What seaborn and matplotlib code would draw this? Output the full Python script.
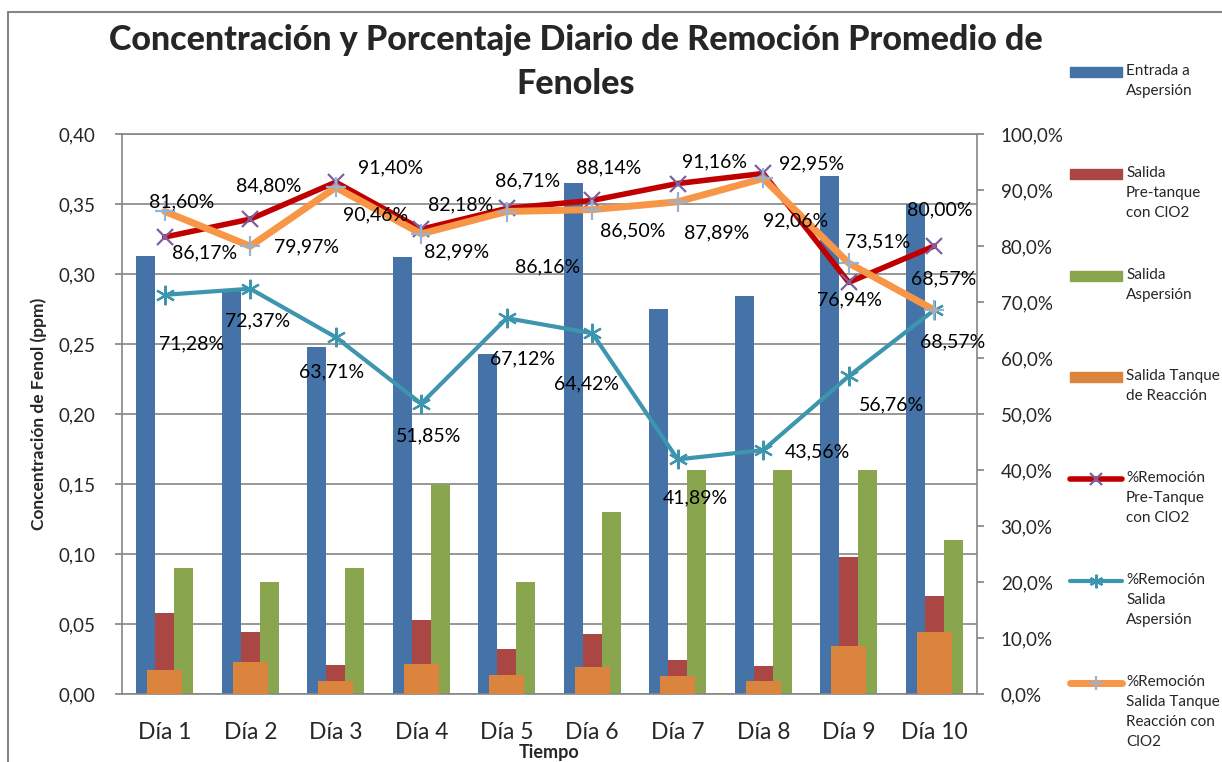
import matplotlib
matplotlib.use("Agg")
from matplotlib import pyplot as plt
from matplotlib.lines import Line2D
from matplotlib.patches import Rectangle
from matplotlib.ticker import FuncFormatter, MultipleLocator
import seaborn as sns
import pandas as pd
import numpy as np

dias = ['Día 1', 'Día 2', 'Día 3', 'Día 4', 'Día 5',
        'Día 6', 'Día 7', 'Día 8', 'Día 9', 'Día 10']

# concentraciones (ppm)
entrada_asp = [0.313, 0.289, 0.248, 0.312, 0.243, 0.365, 0.275, 0.284, 0.370, 0.350]
salida_pre = [0.058, 0.044, 0.021, 0.053, 0.032, 0.043, 0.024, 0.020, 0.098, 0.070]
salida_asp = [0.09, 0.08, 0.09, 0.15, 0.08, 0.13, 0.16, 0.16, 0.16, 0.11]
salida_tanque = [0.043, 0.058, 0.024, 0.054, 0.034, 0.049, 0.033, 0.023, 0.085, 0.110]

# porcentajes de remocion (%)
rem_pre = [81.60, 84.80, 91.40, 82.99, 86.71, 88.14, 91.16, 92.95, 73.51, 80.00]
rem_asp = [71.28, 72.37, 63.71, 51.85, 67.12, 64.42, 41.89, 43.56, 56.76, 68.57]
rem_tanque = [86.17, 79.97, 90.46, 82.18, 86.16, 86.50, 87.89, 92.06, 76.94, 68.57]

# where the data labels sit, in pixels from the point (x right, y down)
off_pre = [(17, -35), (18, -33), (55, -14), (35, 23), (21, -28),
           (16, -33), (37, -22), (48, -10), (29, -40), (5, -36)]
off_asp = [(27, 49), (7, 32), (-4, 35), (7, 32), (16, 41),
           (-6, 51), (18, 38), (54, 2), (43, 29), (18, 32)]
off_tanque = [(40, 41), (56, 1), (40, 27), (39, -29), (41, 55),
              (40, 21), (39, 31), (32, 42), (1, 37), (9, -31)]

C_BLUE, C_RED, C_GREEN, C_ORANGE = '#4572A7', '#AA4643', '#89A54E', '#DB843D'
C_LRED, C_TEAL, C_LORANGE = '#C00000', '#3D96AE', '#F79646'
GRAY = '#868686'

sns.set_theme(style='white')
plt.rcParams['font.family'] = ['Lato', 'DejaVu Sans']

fig = plt.figure(figsize=(12.22, 7.62), dpi=100)
W, H = 1222, 762
ax = fig.add_axes([122 / W, 1 - 694 / H, 855 / W, 560 / H])

bars = pd.DataFrame({
    'Dia': dias * 3,
    'ppm': entrada_asp + salida_pre + salida_asp,
    'Serie': ['Entrada a Aspersión'] * 10 + ['Salida Pre-tanque con ClO2'] * 10
             + ['Salida Aspersión'] * 10,
})
sns.barplot(data=bars, x='Dia', y='ppm', hue='Serie', ax=ax,
            palette=[C_BLUE, C_RED, C_GREEN], width=0.667, gap=0,
            saturation=1, legend=False, linewidth=0)

ax.set_ylim(0, 0.40)
ax.set_xlim(-0.5, 9.5)
ax.yaxis.set_major_locator(MultipleLocator(0.05))
ax.yaxis.set_major_formatter(FuncFormatter(lambda v, p: f'{v:.2f}'.replace('.', ',')))
ax.grid(axis='y', color=GRAY, linewidth=1.2)
ax.set_axisbelow(True)
for s in ['left', 'bottom', 'top']:
    ax.spines[s].set_color(GRAY)
    ax.spines[s].set_linewidth(1.2)
ax.spines['right'].set_visible(False)
ax.tick_params(axis='y', left=True, length=5, color=GRAY, labelsize=13.5, pad=14)
ax.tick_params(axis='x', bottom=False, labelsize=16.5, pad=14)
ax.set_xlabel('Tiempo', fontsize=13, fontweight='bold', labelpad=1)
ax.set_ylabel('Concentración de Fenol (ppm)', fontsize=12.5, fontweight='bold', labelpad=8)

# eje secundario: porcentajes y la barra del tanque de reaccion
ax2 = ax.twinx()
sns.barplot(x=dias, y=salida_tanque, ax=ax2, color=C_ORANGE, width=0.41,
            saturation=1, linewidth=0)
ax2.set_ylim(0, 1.0)
ax2.yaxis.set_major_locator(MultipleLocator(0.1))
ax2.yaxis.set_major_formatter(FuncFormatter(lambda v, p: f'{v * 100:.1f}%'.replace('.', ',')))
for s in ['left', 'bottom', 'top']:
    ax2.spines[s].set_visible(False)
ax2.spines['right'].set_color(GRAY)
ax2.spines['right'].set_linewidth(1.2)
ax2.tick_params(axis='y', right=True, length=5, color=GRAY, labelsize=13.5, pad=12)
ax2.grid(False)

x = np.arange(len(dias))
series = [
    (rem_pre, C_LRED, 4, 'x', '#7D60A0', 12, off_pre),
    (rem_asp, C_TEAL, 3, (6, 2, 0), C_TEAL, 14, off_asp),
    (rem_tanque, C_LORANGE, 5, '+', '#95B3D7', 14, off_tanque),
]
for vals, col, lw, mk, mcol, ms, offs in series:
    y = np.array(vals) / 100
    sns.lineplot(x=x, y=y, ax=ax2, color=col, linewidth=lw, marker=mk, markersize=ms,
                 markeredgecolor=mcol, markerfacecolor=mcol, markeredgewidth=1.6)
    for i, v in enumerate(vals):
        dx, dy = offs[i]
        ax2.annotate(f'{v:.2f}%'.replace('.', ','), xy=(i, v / 100), xytext=(dx, -dy),
                     textcoords='offset pixels', ha='center', va='center',
                     fontsize=14, color='black')
ax2.set_xlim(-0.5, 9.5)

fig.text(576 / W, 1 - 40 / H, 'Concentración y Porcentaje Diario de Remoción Promedio de',
         ha='center', va='center', fontsize=24.5, fontweight='black')
fig.text(576 / W, 1 - 84 / H, 'Fenoles',
         ha='center', va='center', fontsize=24.5, fontweight='black')

# leyenda a mano (el handle va alineado con la primera linea del texto)
leg = [
    ('Entrada a\nAspersión', 'bar', C_BLUE),
    ('Salida\nPre-tanque\ncon ClO2', 'bar', C_RED),
    ('Salida\nAspersión', 'bar', C_GREEN),
    ('Salida Tanque\nde Reacción', 'bar', C_ORANGE),
    ('%Remoción\nPre-Tanque\ncon ClO2', series[0]),
    ('%Remoción\nSalida\nAspersión', series[1]),
    ('%Remoción\nSalida Tanque\nReacción con\nClO2', series[2]),
]
for k, item in enumerate(leg):
    yc = 1 - (72 + k * 101.8) / H
    label = item[0]
    if item[1] == 'bar':
        fig.add_artist(Rectangle((1070 / W, yc - 5 / H), 52 / W, 10 / H,
                                 transform=fig.transFigure, color=item[2]))
    else:
        _, col, lw, mk, mcol, ms, _ = item[1]
        fig.add_artist(Line2D([1070 / W, 1122 / W], [yc, yc], transform=fig.transFigure,
                              color=col, linewidth=lw, solid_capstyle='round'))
        fig.add_artist(Line2D([1096 / W], [yc], transform=fig.transFigure, marker=mk,
                              markersize=ms * 0.7, color=mcol, markeredgewidth=1.6))
    fig.text(1126 / W, yc + 8 / H, label, fontsize=11, va='top', ha='left',
             linespacing=1.55)

# marco del grafico
fig.add_artist(Line2D([8 / W, 1], [1 - 12 / H, 1 - 12 / H], transform=fig.transFigure,
                      color=GRAY, linewidth=1.5))
fig.add_artist(Line2D([8 / W, 8 / W], [0, 1 - 12 / H], transform=fig.transFigure,
                      color=GRAY, linewidth=1.5))

fig.savefig('out.png', dpi=100, facecolor='white')
